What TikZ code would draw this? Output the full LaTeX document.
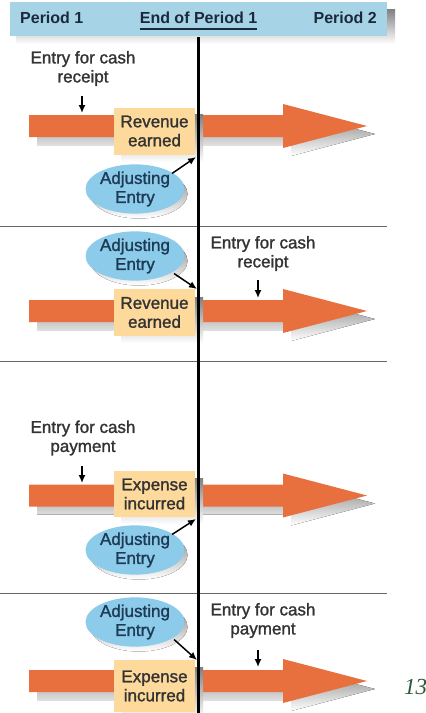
\documentclass[tikz,border=0pt]{standalone}
\usepackage{fontspec}
\setmainfont{Liberation Sans}
\newfontfamily\medfont[FakeBold=1.4]{Liberation Sans}
\newfontfamily\numfont{Liberation Serif}
\usetikzlibrary{arrows.meta,shapes.geometric}
\definecolor{hdrblue}{HTML}{A7D3E7}
\definecolor{barorange}{HTML}{E8703F}
\definecolor{boxfill}{HTML}{FDD99B}
\definecolor{ellfill}{HTML}{8DCBEA}
\definecolor{shade}{HTML}{D2D2D2}
\definecolor{txt}{HTML}{333333}
\definecolor{elltxt}{HTML}{1E3B55}
\definecolor{hdrtxt}{HTML}{1B2A3A}
\definecolor{pagegreen}{HTML}{2E5A3A}
\tikzset{
  lbl/.style={font=\medfont\fontsize{17}{19}\selectfont, text=txt, align=center, inner sep=0pt},
  hdr/.style={font=\fontsize{16}{19}\selectfont\bfseries, text=hdrtxt, inner sep=0pt},
  evbox/.style={fill=boxfill, draw=none, minimum width=81pt, minimum height=47pt, inner sep=0pt,
    font=\medfont\fontsize{17}{19}\selectfont, text=txt, align=center},
  adj/.style={ellipse, fill=ellfill, draw=none, minimum width=97pt, minimum height=49pt, inner sep=0pt,
    font=\medfont\fontsize{17}{19}\selectfont, text=elltxt, align=center},
  ptr/.style={-{Latex[length=8pt,width=7pt]}, line width=1.5pt, black},
  sep/.style={draw=gray!80!black, line width=0.9pt},
}
\newcommand{\bigarrow}[2]{% #1 = center y, #2 = fill
  \fill[#2] (29,#1-11) -- (283,#1-11) -- (283,#1-22) -- (367,#1) -- (283,#1+22) -- (283,#1+11) -- (29,#1+11) -- cycle;
}
\begin{document}
\begin{tikzpicture}[x=1pt,y=-1pt]
\useasboundingbox (0,0) rectangle (426,713);
\fill[white] (0,0) rectangle (426,713);
% header
\fill[shade] (16,9) rectangle (395,44);
\fill[hdrblue] (10,2) rectangle (387,36);
\node[hdr, anchor=west] (p1) at (20,18) {Period 1};
\node[hdr] (endp) at (198.5,18) {End of Period 1};
\node[hdr, anchor=east] (p2) at (377,18) {Period 2};
\draw[hdrtxt, line width=1.2pt] (endp.south west |- 0,29) -- (endp.south east |- 0,29);
% separators
\draw[sep] (0,226) -- (387,226);
\draw[sep] (0,361) -- (387,361);
\draw[sep] (0,593) -- (387,593);
% big arrows (shadow + bar)
\begin{scope}[shift={(8,8)}]
  \bigarrow{126}{shade}
  \bigarrow{311}{shade}
  \bigarrow{495.5}{shade}
  \bigarrow{681}{shade}
\end{scope}
\bigarrow{126}{barorange}
\bigarrow{311}{barorange}
\bigarrow{495.5}{barorange}
\bigarrow{681}{barorange}
% box shadows
\fill[shade] (121,114) rectangle (203,162);
\fill[shade] (121,297) rectangle (203,343);
\fill[shade] (121,478) rectangle (203,524);
\fill[shade] (121,667) rectangle (203,719);
% boxes
\node[evbox] (b1) at (154.5,131) {Revenue\\earned};
\node[evbox] (b2) at (154.5,312.5) {Revenue\\earned};
\node[evbox, minimum height=46pt] (b3) at (154.5,494) {Expense\\incurred};
\node[evbox, minimum height=52pt] (b4) at (154.5,686) {Expense\\incurred};
% ellipse shadows
\fill[shade] (139,194) ellipse (48.5pt and 24.5pt);
\fill[shade] (139,261) ellipse (48.5pt and 24.5pt);
\fill[shade] (139,555) ellipse (48.5pt and 24.5pt);
\fill[shade] (139,627) ellipse (48.5pt and 24.5pt);
% ellipses
\node[adj] (e1) at (135,189) {Adjusting\\Entry};
\node[adj] (e2) at (135,256) {Adjusting\\Entry};
\node[adj] (e3) at (135,550) {Adjusting\\Entry};
\node[adj] (e4) at (135,622) {Adjusting\\Entry};
% vertical line
\coordinate (vtop) at (198,37);
\coordinate (vbot) at (198,713);
\draw[black, line width=3pt] (vtop) -- (vbot);
% labels
\node[lbl] (t1) at (83,68.5) {Entry for cash\\receipt};
\node[lbl] (t2) at (263,253.5) {Entry for cash\\receipt};
\node[lbl] (t3) at (83,438) {Entry for cash\\payment};
\node[lbl] (t4) at (263,620.5) {Entry for cash\\payment};
% small arrows
\coordinate (a1) at (82,113);
\coordinate (a2) at (258,298);
\coordinate (a3) at (82,483);
\coordinate (a4) at (258,667);
\draw[ptr] (82,96) -- (a1);
\draw[ptr] (258,280) -- (a2);
\draw[ptr] (82,466) -- (a3);
\draw[ptr] (258,650) -- (a4);
% adjusting arrows
\coordinate (j1) at (196,157);
\coordinate (j2) at (197,289);
\coordinate (j3) at (196,519);
\coordinate (j4) at (197,660);
\draw[ptr] (e1.north east) ++(2,2) -- (j1);
\draw[ptr] (e2.south east) ++(4,0) -- (j2);
\draw[ptr] (e3.north east) ++(2,2) -- (j3);
\draw[ptr] (e4.south east) ++(4,0) -- (j4);
% page number
\node[anchor=base west, inner sep=0pt, font=\numfont\fontsize{23}{25}\selectfont\itshape, text=pagegreen] (pg) at (404,694) {13};
\end{tikzpicture}
\end{document}
